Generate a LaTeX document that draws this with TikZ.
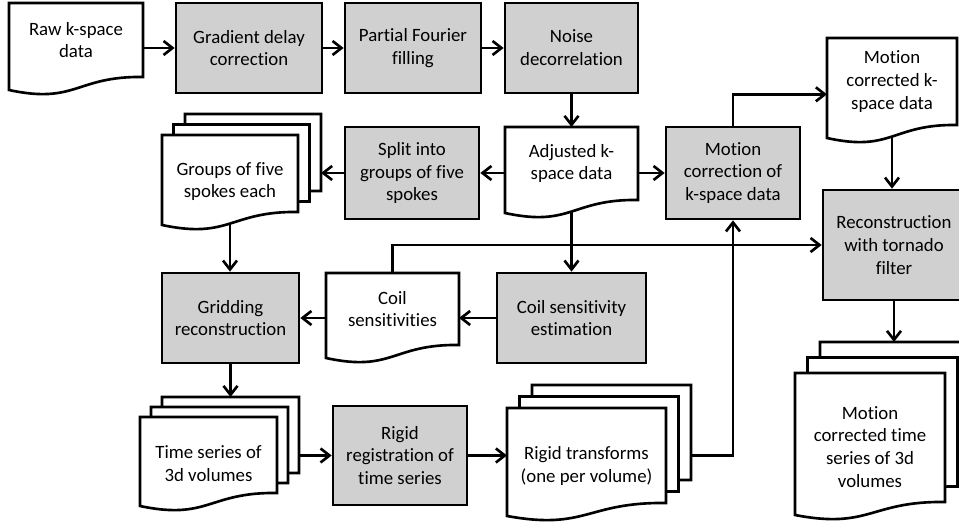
\documentclass[tikz,border=0pt]{standalone}
\usepackage{fontspec}
\setmainfont{Carlito}[Ligatures=NoCommon]
\usepackage{xcolor}
\usepackage{tikz}
\usetikzlibrary{arrows.meta}

\definecolor{procgrey}{RGB}{208,208,208}

% document shape: rectangle with a wavy bottom edge
\makeatletter
\pgfkeys{/pgf/doc top/.initial=0pt}
\pgfdeclareshape{document}{%
  \inheritsavedanchors[from=rectangle]%
  \inheritanchorborder[from=rectangle]%
  \inheritanchor[from=rectangle]{center}%
  \inheritanchor[from=rectangle]{north}%
  \inheritanchor[from=rectangle]{south}%
  \inheritanchor[from=rectangle]{east}%
  \inheritanchor[from=rectangle]{west}%
  \inheritanchor[from=rectangle]{north east}%
  \inheritanchor[from=rectangle]{north west}%
  \inheritanchor[from=rectangle]{south east}%
  \inheritanchor[from=rectangle]{south west}%
  \inheritanchor[from=rectangle]{text}%
  \inheritanchor[from=rectangle]{base}%
  \inheritanchor[from=rectangle]{mid}%
  \backgroundpath{%
    \southwest \edef\docxl{\the\pgf@x}\edef\docyb{\the\pgf@y}%
    \northeast \edef\docxr{\the\pgf@x}\edef\docyt{\the\pgf@y}%
    \pgfmathsetlengthmacro\docytop{\docyt+\pgfkeysvalueof{/pgf/doc top}}%
    \pgfmathsetlengthmacro\docxm{0.5*(\docxl)+0.5*(\docxr)}%
    \pgfpathmoveto{\pgfpoint{\docxl}{\docytop}}%
    \pgfpathlineto{\pgfpoint{\docxr}{\docytop}}%
    \pgfpathlineto{\pgfpoint{\docxr}{\docyb}}%
    \pgfpathcurveto{\pgfpoint{\docxm}{\docyb+0.2mm}}{\pgfpoint{\docxm}{\docyb-5.5mm}}{\pgfpoint{\docxl}{\docyb-2.6mm}}%
    \pgfpathclose
  }%
}
\makeatother

\begin{document}
\begin{tikzpicture}[
    x=0.2mm, y=-0.2mm,
    font=\fontsize{10.7}{13}\selectfont,
    process/.style={rectangle, draw, line width=1.5pt, fill=procgrey, minimum height=18mm, align=center, inner sep=1pt},
    datadoc/.style={shape=document, draw, line width=1.5pt, fill=white, align=center, inner sep=1pt, outer sep=0pt},
    arrow/.style={-{Straight Barb[length=1.8mm, width=2.8mm]}, line width=1.5pt}
]
\useasboundingbox (0,0) rectangle (959,528);

\node[datadoc, minimum width=26.8mm, minimum height=14.8mm] (raw) at (76,40) {Raw k-space\\data};
\node[process, minimum width=29.2mm] (grad) at (249,48) {Gradient delay\\correction};
\node[process, minimum width=27.2mm] (pfour) at (413,48) {Partial Fourier\\filling};
\node[process, minimum width=26.6mm] (noise) at (571.5,48) {Noise\\decorrelation};

\node[datadoc, minimum width=26.6mm, minimum height=14.6mm] (adj) at (571.5,163.5) {Adjusted k-\\space data};
\node[process, minimum width=26.8mm, minimum height=18.4mm] (split) at (412,173) {Split into\\groups of five\\spokes};
\node[process, minimum width=26.8mm, minimum height=18.4mm] (mocorr) at (733,173) {Motion\\correction of\\k-space data};
\node[datadoc, minimum width=26mm, minimum height=17.4mm] (mockd) at (892,81.5) {Motion\\corrected k-\\space data};

\node[datadoc, minimum width=27.2mm, minimum height=15.4mm] (groupsC) at (253,152.5) {};
\node[datadoc, minimum width=27.2mm, minimum height=15.4mm] (groupsB) at (241.5,163) {};
\node[datadoc, minimum width=27.2mm, minimum height=12.2mm, /pgf/doc top=3.2mm] (groups) at (230,181.5) {Groups of five\\spokes each};

\node[datadoc, minimum width=26.6mm, minimum height=14.4mm] (coils) at (392.5,309) {Coil\\sensitivities};
\node[process, minimum width=27.4mm] (grid) at (230.5,318) {Gridding\\reconstruction};
\node[process, minimum width=29.8mm] (coilest) at (571.5,318) {Coil sensitivity\\estimation};
\node[process, minimum width=28.4mm, minimum height=22mm] (recon) at (894,245) {Reconstruction\\with tornado\\filter};

\node[datadoc, minimum width=27.4mm, minimum height=15.2mm] (timeC) at (230.5,435) {};
\node[datadoc, minimum width=27.4mm, minimum height=15.2mm] (timeB) at (219.5,445) {};
\node[datadoc, minimum width=27.4mm, minimum height=11.8mm, /pgf/doc top=3.4mm] (time) at (208.5,463.5) {Time series of\\3d volumes};

\node[process, minimum width=26.8mm, minimum height=19.8mm] (rigreg) at (400,455.5) {Rigid\\registration of\\time series};

\node[datadoc, minimum width=31.8mm, minimum height=19mm] (rigidC) at (611.5,432.5) {};
\node[datadoc, minimum width=31.8mm, minimum height=19mm] (rigidB) at (599,444) {};
\node[datadoc, minimum width=31.8mm, minimum height=14.8mm, /pgf/doc top=4.2mm] (rigid) at (586.5,466) {Rigid transforms\\(one per volume)};

\node[datadoc, minimum width=30mm, minimum height=25.8mm] (mctsC) at (895,406.5) {};
\node[datadoc, minimum width=30mm, minimum height=25.8mm] (mctsB) at (882.5,422) {};
\node[datadoc, minimum width=30mm, minimum height=22mm, /pgf/doc top=3.8mm] (mcts) at (870,447) {Motion\\corrected time\\series of 3d\\volumes};

\draw[arrow] (raw.east |- grad.west) -- (grad.west);
\draw[arrow] (grad.east) -- (pfour.west);
\draw[arrow] (pfour.east) -- (noise.west);
\draw[arrow] (noise.south) -- (adj.north);
\draw[arrow] (adj.west |- split.east) -- (split.east);
\draw[arrow] (adj.east |- mocorr.west) -- (mocorr.west);
\draw[arrow] (mocorr.north) |- (mockd.west |- noise.south);
\draw[arrow] ([yshift=-2.3mm]mockd.south) -- (mockd.south |- recon.north);
\draw[arrow] (split.west) -- (split.west -| groupsC.east);
\draw[arrow] ([yshift=-2.3mm]groups.south) -- (groups.south |- grid.north);
\draw[arrow] ([yshift=-2.3mm]adj.south) -- (coilest.north);
\draw[arrow] (coilest.west) -- (coilest.west -| coils.east);
\draw[arrow] (coils.west |- grid.east) -- (grid.east);
\draw[arrow] (coils.north) |- (recon.west);
\draw[arrow] (grid.south) -- (timeC.north);
\draw[arrow] (timeC.east |- rigreg.west) -- (rigreg.west);
\draw[arrow] (rigreg.east) -- (rigreg.east -| rigid.west);
\draw[arrow] (rigidC.east |- rigreg.east) -| (mocorr.south);
\draw[arrow] (recon.south) -- (recon.south |- mctsC.north);

\end{tikzpicture}
\end{document}
